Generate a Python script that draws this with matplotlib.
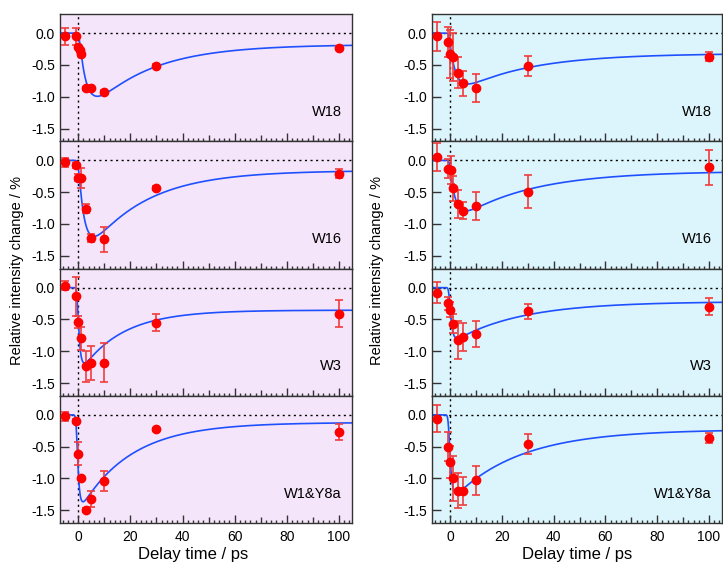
import numpy as np
import matplotlib
matplotlib.use("Agg")
import matplotlib.pyplot as plt

plt.rcParams['font.family'] = ['Liberation Sans', 'DejaVu Sans']
plt.rcParams['axes.unicode_minus'] = False

labels = ["W18", "W16", "W3", "W1&Y8a"]

# left column (pink)
left_x = [[-5, -1, 0, 0.5, 1, 3, 5, 10, 30, 100],
          [-5, -1, 0, 1, 3, 5, 10, 30, 100],
          [-5, -1, 0, 1, 3, 5, 10, 30, 100],
          [-5, -1, 0, 1, 3, 5, 10, 30, 100]]
left_y = [[-0.05, -0.05, -0.22, -0.27, -0.33, -0.87, -0.87, -0.92, -0.52, -0.23],
          [-0.03, -0.08, -0.27, -0.28, -0.76, -1.22, -1.24, -0.44, -0.21],
          [0.03, -0.14, -0.54, -0.80, -1.24, -1.19, -1.18, -0.55, -0.41],
          [-0.02, -0.10, -0.61, -1.00, -1.50, -1.32, -1.04, -0.23, -0.27]]
left_err = [[0.13, 0.13, 0.03, 0.03, 0.03, 0.03, 0.03, 0.03, 0.03, 0.03],
            [0.07, 0.04, 0.05, 0.16, 0.07, 0.07, 0.20, 0.03, 0.07],
            [0.07, 0.31, 0.09, 0.18, 0.25, 0.27, 0.31, 0.14, 0.21],
            [0.07, 0.03, 0.18, 0.03, 0.03, 0.13, 0.16, 0.03, 0.12]]

# right column (blue)
right_x = [[-5, -1, 0, 1, 3, 5, 10, 30, 100],
           [-5, -1, 0.5, 1, 3, 5, 10, 30, 100],
           [-5, -1, 0, 1, 3, 5, 10, 30, 100],
           [-5, -1, 0, 1, 3, 5, 10, 30, 100]]
right_y = [[-0.05, -0.14, -0.33, -0.38, -0.62, -0.79, -0.86, -0.52, -0.37],
           [0.06, -0.13, -0.15, -0.44, -0.69, -0.79, -0.72, -0.49, -0.11],
           [-0.08, -0.25, -0.35, -0.57, -0.82, -0.77, -0.73, -0.375, -0.30],
           [-0.06, -0.50, -0.74, -1.00, -1.19, -1.20, -1.03, -0.46, -0.36]]
right_err = [[0.23, 0.24, 0.38, 0.38, 0.25, 0.20, 0.22, 0.16, 0.07],
             [0.22, 0.15, 0.22, 0.20, 0.22, 0.13, 0.22, 0.26, 0.27],
             [0.17, 0.10, 0.12, 0.15, 0.30, 0.22, 0.20, 0.12, 0.13],
             [0.21, 0.23, 0.25, 0.35, 0.27, 0.22, 0.23, 0.16, 0.08]]

# fit parameters: amplitude, offset, rise, decay, time zero, irf width
left_amp = [1.25, 1.52, 1.04, 1.47]
left_off = [0.18, 0.16, 0.355, 0.12]
left_rise = [3.0, 2.5, 0.8, 0.7]
left_decay = [23, 22, 16, 19.5]
left_t0 = [0.3, 0.0, -0.4, -0.7]
left_irf = [0.5, 0.5, 0.4, 0.4]

right_amp = [0.69, 0.85, 0.67, 1.16]
right_off = [0.32, 0.17, 0.22, 0.23]
right_rise = [2.5, 2.3, 0.8, 0.8]
right_decay = [27, 28, 26, 26]
right_t0 = [-0.5, -0.3, -0.4, -0.6]
right_irf = [0.4, 0.4, 0.4, 0.4]


def fit_curve(t, amp, off, tr, td, t0, sig):
    s = np.clip(t - t0, 0, None)
    g = np.where(t >= t0, -(1 - np.exp(-s / tr)) * (amp * np.exp(-s / td) + off), 0.0)
    dt = t[1] - t[0]
    n = int(5 * sig / dt)
    k = np.arange(-n, n + 1) * dt
    ker = np.exp(-0.5 * (k / sig) ** 2)
    ker /= ker.sum()
    return np.convolve(g, ker, mode='same')


W, H = 723, 564
fig = plt.figure(figsize=(W / 100, H / 100), dpi=100)

top_px, bot_px = 14, 523
ph = (bot_px - top_px) / 4
cols = [
    (60, 292, '#f5e5fa', left_x, left_y, left_err,
     (left_amp, left_off, left_rise, left_decay, left_t0, left_irf)),
    (432, 290, '#dcf4fb', right_x, right_y, right_err,
     (right_amp, right_off, right_rise, right_decay, right_t0, right_irf)),
]

t = np.arange(-30, 130, 0.02)

for (x0, wpx, bg, xs, ys, es, pars) in cols:
    for i in range(4):
        b = (H - top_px - ph * (i + 1)) / H
        ax = fig.add_axes([x0 / W, b, wpx / W, ph / H])
        ax.set_facecolor(bg)
        ax.axhline(0, color='k', ls=(0, (1.5, 2.5)), lw=1, zorder=1)
        ax.axvline(0, color='k', ls=(0, (1.5, 2.5)), lw=1, zorder=1)
        p = [pp[i] for pp in pars]
        ax.plot(t, fit_curve(t, *p), color='#1f50ff', lw=1.2, zorder=2)
        ax.errorbar(xs[i], ys[i], yerr=es[i], fmt='o', color='#ff0000',
                    mec='#ff0000', ecolor='#f03c3c', elinewidth=1.2,
                    capsize=3.2, capthick=1.2, markersize=6, zorder=3)
        ax.set_xlim(-7, 105)
        ax.set_ylim(-1.7, 0.3)
        ax.set_yticks([0.0, -0.5, -1.0, -1.5])
        ax.set_yticklabels(['0.0', '-0.5', '-1.0', '-1.5'])
        ax.set_xticks([0, 20, 40, 60, 80, 100])
        ax.set_xticks(np.arange(-6, 105, 2), minor=True)
        ax.tick_params(axis='y', direction='in', length=6.5, width=1,
                       labelsize=10, pad=3.5, color='#333333')
        ax.tick_params(axis='x', which='major', direction='in', length=5.5,
                       width=1, labelsize=10, pad=5, color='#333333')
        ax.tick_params(axis='x', which='minor', direction='in', length=2.5,
                       width=1, color='#333333')
        locs = ax.xaxis.get_minorticklocs()
        for loc, tk in zip(locs, ax.xaxis.get_minor_ticks(len(locs))):
            if round(loc) % 10 == 0:
                tk.tick1line.set_markersize(4)
        if i < 3:
            ax.tick_params(axis='x', labelbottom=False)
        for sp in ax.spines.values():
            sp.set_color('#333333')
            sp.set_linewidth(1)
        ax.text(0.965, 0.23, labels[i], transform=ax.transAxes,
                ha='right', va='center', fontsize=10.5)

fig.text(17.5 / W, 1 - 270 / H, 'Relative intensity change / %', rotation=90,
         ha='center', va='center', fontsize=10.5)
fig.text(377.5 / W, 1 - 270 / H, 'Relative intensity change / %', rotation=90,
         ha='center', va='center', fontsize=10.5)
fig.text(193 / W, 1.5 / H, 'Delay time / ps', ha='center', va='bottom',
         fontsize=12)
fig.text(577 / W, 1.5 / H, 'Delay time / ps', ha='center', va='bottom',
         fontsize=12)

fig.savefig('out.png', dpi=100)
